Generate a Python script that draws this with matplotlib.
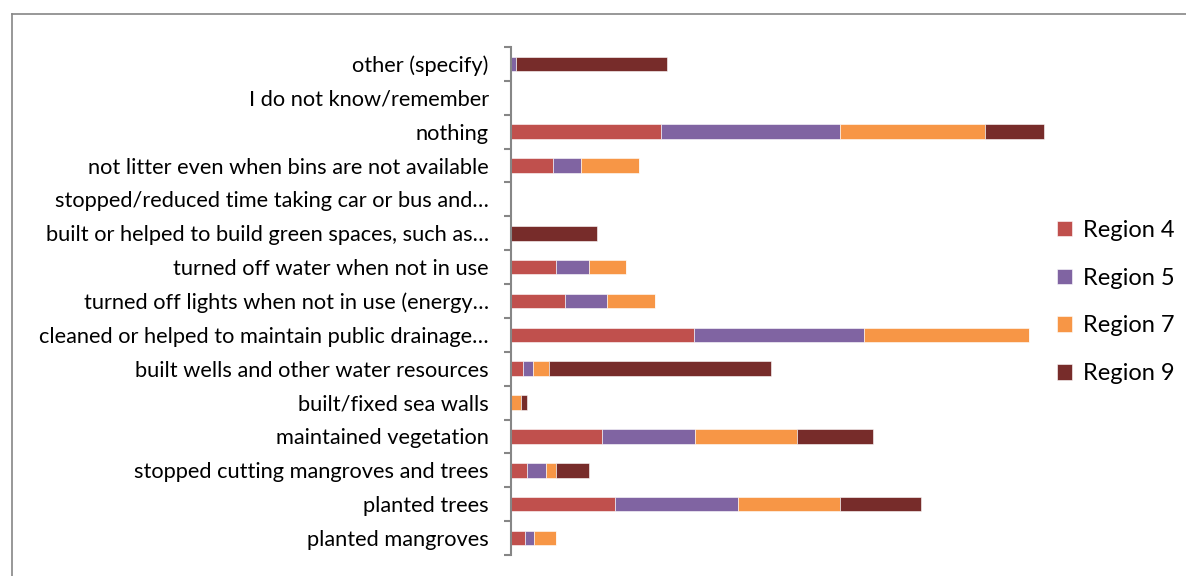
import matplotlib.pyplot as plt
import numpy as np

plt.rcParams['font.family'] = ['Lato', 'DejaVu Sans']

categories = ['planted mangroves', 'planted trees', 'stopped cutting mangroves and trees',
              'maintained vegetation', 'built/fixed sea walls', 'built wells and other water resources',
              'cleaned or helped to maintain public drainage\u2026',
              'turned off lights when not in use (energy\u2026', 'turned off water when not in use',
              'built or helped to build green spaces, such as\u2026',
              'stopped/reduced time taking car or bus and\u2026',
              'not litter even when bins are not available', 'nothing',
              'I do not know/remember', 'other (specify)']

region4 = [14.4, 104.4, 16.0, 90.8, 0, 12.2, 182.6, 54.4, 44.7, 0, 0, 41.5, 150.0, 0, 0]
region5 = [8.9, 122.8, 19.0, 93.6, 0, 9.3, 170.4, 42.0, 33.0, 0, 0, 28.6, 179.0, 0, 4.5]
region7 = [21.8, 101.8, 10.4, 101.8, 10.4, 16.4, 165.0, 48.0, 37.5, 0, 0, 58.0, 145.0, 0, 0]
region9 = [0, 81.0, 32.5, 75.7, 5.4, 221.8, 0, 0, 0, 86.0, 0, 0, 59.0, 0, 151.0]

series = [('Region 4', region4, '#C0504D'), ('Region 5', region5, '#8064A2'),
          ('Region 7', region7, '#F79646'), ('Region 9', region9, '#772C2A')]

fig = plt.figure(figsize=(11.86, 5.76), dpi=100)
ax = fig.add_axes([511 / 1186, 1 - 555 / 576, 539 / 1186, 508 / 576])

y = np.arange(len(categories))
left = np.zeros(len(categories))
for name, vals, col in series:
    ax.barh(y, vals, left=left, height=0.43, color=col, label=name,
            edgecolor='white', linewidth=0.4)
    left += np.array(vals)

ax.set_xlim(0, 539)
ax.set_ylim(-0.5, len(categories) - 0.5)
ax.set_yticks(y)
ax.set_yticklabels(categories, fontsize=15.7)
ax.set_yticks(np.arange(-0.5, len(categories)), minor=True)
ax.tick_params(axis='y', which='major', length=0, pad=16)
ax.tick_params(axis='y', which='minor', length=5, width=1.5, color='#868686', direction='out')
ax.xaxis.set_visible(False)
for s in ['top', 'right', 'bottom']:
    ax.spines[s].set_visible(False)
ax.spines['left'].set_color('#868686')
ax.spines['left'].set_linewidth(1.5)

ax.legend(loc='center left', bbox_to_anchor=(1036 / 1186, 1 - 302 / 576),
          bbox_transform=fig.transFigure, frameon=False, fontsize=17,
          handlelength=0.62, handleheight=0.62, handletextpad=0.45, labelspacing=1.14)

# outer chart border
fig.add_artist(plt.Line2D([12 / 1186, 12 / 1186], [0, 1 - 14 / 576], transform=fig.transFigure,
                          color='#868686', linewidth=1.2))
fig.add_artist(plt.Line2D([12 / 1186, 1], [1 - 14 / 576, 1 - 14 / 576], transform=fig.transFigure,
                          color='#868686', linewidth=1.2))

fig.savefig('out.png', dpi=100)
